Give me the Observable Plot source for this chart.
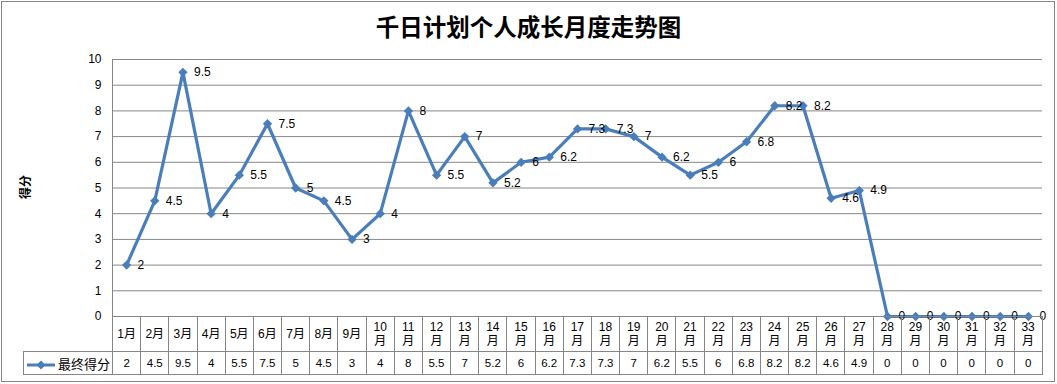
<!DOCTYPE html>
<html>
<head>
<meta charset="utf-8">
<script src="https://cdn.jsdelivr.net/npm/d3@7"></script>
<script src="https://cdn.jsdelivr.net/npm/@observablehq/plot@0.6"></script>
<style>
  html, body { margin: 0; padding: 0; background: #fff; }
  #wrap { position: relative; width: 1057px; height: 384px; overflow: hidden; font-family: "Liberation Sans", "Noto Sans CJK SC", sans-serif; color: #000; }
  #border { position: absolute; left: 1px; top: 1px; width: 1052px; height: 379px; border: 1px solid #868686; }
  #title { position: absolute; left: 0; top: 12px; width: 1057px; text-align: center; font: bold 23.5px/28px "Noto Sans CJK SC", sans-serif; }
  #ylabel { position: absolute; left: 25px; top: 187px; transform: translate(-50%, -50%) rotate(-90deg); font: bold 12px/14px "Noto Sans CJK SC", sans-serif; white-space: nowrap; }
  #chart { position: absolute; left: 0; top: 0; }
  #tbl { position: absolute; top: 316px; border-collapse: collapse; table-layout: fixed; }
  #tbl td { border: 1px solid #868686; padding: 0; text-align: center; vertical-align: middle; overflow: hidden; }
  #tbl tr.h td { height: 34px; font: 12px/14px "Liberation Sans", "Noto Sans CJK SC", sans-serif; }
  #tbl tr.v td { height: 22px; font: 11.5px/13px "Liberation Sans", sans-serif; }
  #tbl td.blank { border-top: none; border-left: none; }
  #tbl tr.v td.leg { font: 13px/15px "Noto Sans CJK SC", sans-serif; white-space: nowrap; text-align: left; padding-left: 2px; }
  #tbl td.leg svg { vertical-align: middle; margin-right: 2px; }
</style>
</head>
<body>
<div id="wrap">
  <div id="border"></div>
  <div id="chart"></div>
  <div id="title"></div>
  <div id="ylabel"></div>
  <table id="tbl"></table>
</div>
<script>
const chartTitle = "千日计划个人成长月度走势图";
const yLabel = "得分";
const seriesName = "最终得分";
const months = ["1月","2月","3月","4月","5月","6月","7月","8月","9月","10月","11月","12月","13月","14月","15月","16月","17月","18月","19月","20月","21月","22月","23月","24月","25月","26月","27月","28月","29月","30月","31月","32月","33月"];
const scores = [2,4.5,9.5,4,5.5,7.5,5,4.5,3,4,8,5.5,7,5.2,6,6.2,7.3,7.3,7,6.2,5.5,6,6.8,8.2,8.2,4.6,4.9,0,0,0,0,0,0];
const yTicks = [0,1,2,3,4,5,6,7,8,9,10];

const lineColor = "#4A7EBB";
const gridColor = "#868686";

const data = months.map((m, i) => ({idx: i + 1, month: m, score: scores[i]}));

const plot = Plot.plot({
  width: 1057,
  height: 384,
  marginLeft: 112,
  marginRight: 15,
  marginTop: 59,
  marginBottom: 68,
  style: {background: "transparent", color: "#000", fontFamily: "'Liberation Sans', sans-serif"},
  x: {domain: [0.5, months.length + 0.5], axis: null},
  y: {domain: [0, 10], axis: null},
  marks: [
    Plot.ruleY(yTicks, {stroke: gridColor, strokeWidth: 1}),
    Plot.ruleX([0.5], {stroke: gridColor, strokeWidth: 1}),
    Plot.axisY(yTicks, {tickSize: 0, tickPadding: 11, fontSize: 12, label: null, fill: "#000"}),
    Plot.line(data, {x: "idx", y: "score", stroke: lineColor, strokeWidth: 3.2, strokeLinejoin: "round"}),
    Plot.dot(data, {x: "idx", y: "score", symbol: "diamond2", r: 4.2, fill: lineColor, stroke: "none"}),
    Plot.text(data, {x: "idx", y: "score", text: d => String(d.score), dx: 11, textAnchor: "start", fontSize: 12, fill: "#000"})
  ]
});
document.getElementById("chart").appendChild(plot);
document.getElementById("title").textContent = chartTitle;
document.getElementById("ylabel").textContent = yLabel;

// data table under the chart, columns aligned on the x scale
const xs = plot.scale("x");
const edges = d3.range(months.length + 1).map(i => xs.apply(i + 0.5));
const legLeft = 23;
const tbl = document.getElementById("tbl");
tbl.style.left = legLeft + "px";
const cg = document.createElement("colgroup");
const c0 = document.createElement("col");
c0.style.width = (edges[0] - legLeft) + "px";
cg.appendChild(c0);
let total = edges[0] - legLeft;
for (let i = 0; i < months.length; i++) {
  const c = document.createElement("col");
  const w = edges[i + 1] - edges[i];
  c.style.width = w + "px";
  total += w;
  cg.appendChild(c);
}
tbl.appendChild(cg);
tbl.style.width = total + "px";

const trH = document.createElement("tr");
trH.className = "h";
const blank = document.createElement("td");
blank.className = "blank";
trH.appendChild(blank);
months.forEach(m => {
  const td = document.createElement("td");
  const mm = m.match(/^(\d+)(.*)$/);
  if (mm && mm[1].length > 1) td.innerHTML = mm[1] + "<br>" + mm[2];
  else td.textContent = m;
  trH.appendChild(td);
});
tbl.appendChild(trH);

const trV = document.createElement("tr");
trV.className = "v";
const leg = document.createElement("td");
leg.className = "leg";
leg.innerHTML = `<svg width="30" height="10"><line x1="1" y1="5" x2="29" y2="5" stroke="${lineColor}" stroke-width="3"/><path d="M15,0.5L19.5,5L15,9.5L10.5,5Z" fill="${lineColor}"/></svg>`;
leg.appendChild(document.createTextNode(seriesName));
trV.appendChild(leg);
scores.forEach(v => {
  const td = document.createElement("td");
  td.textContent = String(v);
  trV.appendChild(td);
});
tbl.appendChild(trV);
</script>
</body>
</html>
